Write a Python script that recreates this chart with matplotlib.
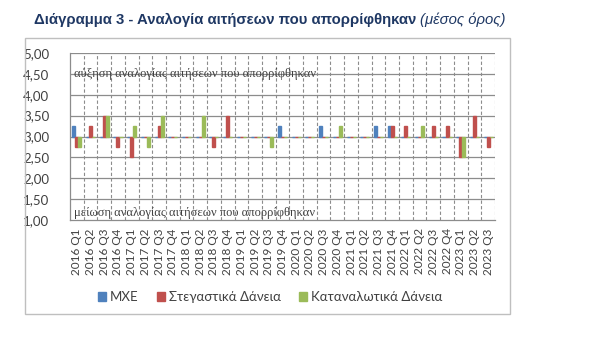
import numpy as np
import matplotlib.pyplot as plt
from matplotlib.patches import Rectangle, Patch

quarters = [f"{y} Q{q}" for y in range(2016, 2024) for q in range(1, 5)][:31]

mxe = [3.25, 3.00, 3.00, 3.00, 3.00, 3.00, 3.00, 3.00, 3.00, 3.00, 3.00,
       3.00, 3.00, 3.00, 3.00, 3.25, 3.00, 3.00, 3.25, 3.00, 3.00, 3.00,
       3.25, 3.25, 3.00, 3.00, 3.00, 3.00, 3.00, 3.00, 3.00]
housing = [2.75, 3.25, 3.50, 2.75, 2.50, 3.00, 3.25, 3.00, 3.00, 3.00, 2.75,
           3.50, 3.00, 3.00, 3.00, 3.00, 3.00, 3.00, 3.00, 3.00, 3.00, 3.00,
           3.00, 3.25, 3.25, 3.00, 3.25, 3.25, 2.50, 3.50, 2.75]
consumer = [2.75, 3.00, 3.50, 3.00, 3.25, 2.75, 3.50, 3.00, 3.00, 3.50, 3.00,
            3.00, 3.00, 3.00, 2.75, 3.00, 3.00, 3.00, 3.00, 3.25, 3.00, 3.00,
            3.00, 3.00, 3.00, 3.25, 3.00, 3.00, 2.50, 3.00, 3.00]

series = [
    ("ΜΧΕ", mxe, "#4F81BD"),
    ("Στεγαστικά Δάνεια", housing, "#C0504D"),
    ("Καταναλωτικά Δάνεια", consumer, "#9BBB59"),
]
baseline = 3.0
yticks = np.arange(1.0, 5.01, 0.5)

W, H = 602, 342
fig = plt.figure(figsize=(W / 100, H / 100), dpi=100)

# outer chart frame
fig.patches.append(Rectangle((25 / W, 1 - 314 / H), 485 / W, 276 / H,
                             transform=fig.transFigure, fill=False,
                             edgecolor="#BFBFBF", linewidth=1.0))

# title: bold part + italic note
navy = "#1F3864"
t1 = fig.text(34 / W, 1 - 20 / H, "Διάγραμμα 3 - Αναλογία αιτήσεων που απορρίφθηκαν ",
              fontsize=10.7, fontweight="bold", color=navy,
              family="Liberation Sans", va="center", ha="left")
fig.canvas.draw()
bb = t1.get_window_extent()
fig.text(bb.x1 / W, 1 - 20 / H, "(μέσος όρος)", fontsize=10.7, fontstyle="italic",
         color=navy, family="Liberation Sans", va="center", ha="left")

ax = fig.add_axes([70 / W, 1 - 220 / H, 425 / W, 167 / H])
x = np.arange(len(quarters))
bw = 0.22
for i, (name, vals, col) in enumerate(series):
    heights = np.array(vals) - baseline
    # edge keeps the flat (3,00) bars visible as short stubs
    ax.bar(x + (i - 1) * bw, heights, width=bw, bottom=baseline, color=col,
           edgecolor=col, linewidth=1.0, zorder=3)

grid_col = "#8C8C8C"
for y in yticks[1:]:
    ax.axhline(y, color=grid_col, linewidth=0.9, zorder=1)
for b in np.arange(0.5, len(quarters), 1.0):
    ax.axvline(b, color=grid_col, linewidth=0.8, linestyle=(0, (3, 2)), zorder=1)

ax.set_xlim(-0.5, len(quarters) - 0.5)
ax.set_ylim(1.0, 5.0)
ax.set_yticks(yticks)
ax.set_yticklabels([f"{v:.2f}".replace(".", ",") for v in yticks],
                   fontsize=9.5, family="Lato", color="#404040")
ax.set_xticks(x)
ax.set_xticklabels(quarters, rotation=90, fontsize=8.5, family="Lato", color="#404040")
ax.tick_params(axis="y", length=0, pad=15)
ax.tick_params(axis="x", length=0, pad=6)
for s in ["top", "right"]:
    ax.spines[s].set_visible(False)
for s in ["left", "bottom"]:
    ax.spines[s].set_color(grid_col)
    ax.spines[s].set_linewidth(0.9)

ax.text(0.01, 4.5, "αύξηση αναλογίας αιτήσεων που απορρίφθηκαν",
        transform=ax.get_yaxis_transform(), fontsize=9, family="Liberation Serif",
        color="#404040", va="center", ha="left", zorder=4)
ax.text(0.01, 1.17, "μείωση αναλογίας αιτήσεων που απορρίφθηκαν",
        transform=ax.get_yaxis_transform(), fontsize=9, family="Liberation Serif",
        color="#404040", va="center", ha="left", zorder=4)

handles = [Patch(facecolor=c, edgecolor=c, label=n) for n, _, c in series]
fig.legend(handles=handles, loc="center", bbox_to_anchor=(270 / W, 1 - 297 / H),
           ncol=3, frameon=False, handlelength=0.6, handleheight=0.6,
           handletextpad=0.3, columnspacing=1.4,
           prop={"family": "Lato", "size": 9.5}, labelcolor="#404040")

fig.savefig("out.png", dpi=100)
